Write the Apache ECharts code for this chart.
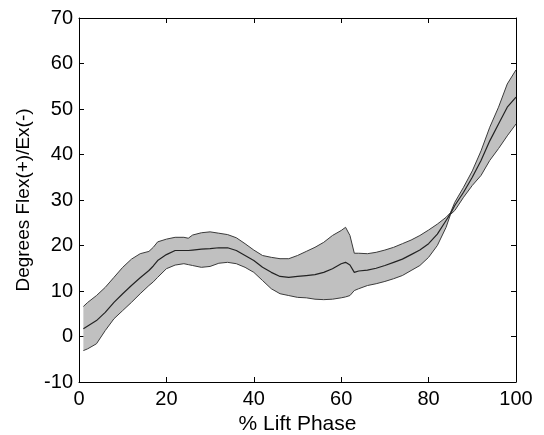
<!DOCTYPE html>
<html><head><meta charset="utf-8">
<script src="https://cdn.jsdelivr.net/npm/echarts@6/dist/echarts.min.js"></script>
<style>html,body{margin:0;padding:0;background:#fff}#c{width:544px;height:435px}</style>
</head><body><div id="c"></div>
<script>
var xPct = [1,2,4,6,8,10,12,14,16,17,18,20,22,24,25,26,28,30,32,34,36,38,40,42,44,46,48,50,52,54,56,58,60,61,62,63,64,66,68,70,72,74,76,78,80,82,84,85,86,88,90,92,94,96,98,100];
var meanVals = [1.7,2.3,3.5,5.3,7.5,9.4,11.2,12.9,14.5,15.5,16.7,18,18.9,18.9,18.9,19,19.2,19.3,19.5,19.5,18.9,17.8,16.7,15.2,14.1,13.2,13,13.2,13.4,13.6,14.1,14.9,16,16.3,15.7,14.1,14.4,14.6,15,15.6,16.3,17,18,19,20.4,22.5,25.5,27,28.8,31.7,35,38.7,43,46.7,50.4,52.6];
var upperVals = [6.6,7.5,9,10.8,13,15.2,17,18.2,18.7,19.6,20.8,21.4,21.8,21.8,21.6,22.3,22.8,23,22.7,22.4,21.7,20.4,19,17.8,17.4,17.1,17.1,17.8,18.7,19.6,20.7,22.2,23.3,24,22.2,18.3,18.3,18.2,18.5,19,19.6,20.4,21.2,22.2,23.4,24.7,26.2,27.2,29.5,32.8,36.4,40.8,46,50.4,55.5,58.6];
var lowerVals = [-3.1,-2.7,-1.6,1.3,3.9,5.7,7.5,9.4,11.2,12,13,14.9,15.7,16,15.8,15.6,15.2,15.4,16.1,16.3,16,15.2,14.1,12.3,10.5,9.4,9,8.6,8.5,8.2,8.1,8.2,8.5,8.7,9,10.1,10.5,11.2,11.6,12.1,12.7,13.4,14.5,15.6,17.4,20,24,26.8,27.7,30.6,33.2,35.4,38.7,41.3,44.1,46.7];
var xTicks = [0,20,40,60,80,100];
var yTicks = [-10,0,10,20,30,40,50,60,70];

function pairs(arr){ return xPct.map(function(x,i){ return [x, arr[i]]; }); }

var font = 'Liberation Sans, Arial, sans-serif';
var chart = echarts.init(document.getElementById('c'));
function axisCommon(){ return {
  axisLine:{show:true,onZero:false,lineStyle:{color:'#000',width:1}},
  axisTick:{show:true,inside:true,length:5,lineStyle:{color:'#000'}},
  splitLine:{show:false}
};}
chart.setOption({
  animation:false,
  grid:{left:79,right:28,top:18,bottom:53,show:false,containLabel:false,outerBoundsMode:'none'},
  xAxis:[
    Object.assign({type:'value',min:xTicks[0],max:xTicks[xTicks.length-1],interval:20,position:'bottom',
      name:'% Lift Phase',nameLocation:'middle',nameGap:31,
      nameTextStyle:{fontFamily:font,fontSize:21,color:'#000'},
      axisLabel:{fontFamily:font,fontSize:20,color:'#000',margin:7}},axisCommon()),
    Object.assign({type:'value',min:xTicks[0],max:xTicks[xTicks.length-1],interval:20,position:'top',
      axisLabel:{show:false}},axisCommon())
  ],
  yAxis:[
    Object.assign({type:'value',min:yTicks[0],max:yTicks[yTicks.length-1],interval:10,position:'left',
      name:'Degrees Flex(+)/Ex(-)',nameLocation:'middle',nameGap:45,
      nameTextStyle:{fontFamily:font,fontSize:19,color:'#000'},
      axisLabel:{fontFamily:font,fontSize:20,color:'#000',margin:6}},axisCommon()),
    Object.assign({type:'value',min:yTicks[0],max:yTicks[yTicks.length-1],interval:10,position:'right',
      axisLabel:{show:false}},axisCommon())
  ],
  series:[
    {type:'custom',silent:true,z:1,
      data:[0],
      renderItem:function(params, api){
        var pts = [];
        for (var i=0;i<xPct.length;i++) pts.push(api.coord([xPct[i], upperVals[i]]));
        for (var j=xPct.length-1;j>=0;j--) pts.push(api.coord([xPct[j], lowerVals[j]]));
        return {type:'polygon',shape:{points:pts},style:{fill:'#c0c0c0',stroke:null}};
      }},
    {type:'line',data:pairs(upperVals),symbol:'none',z:3,lineStyle:{color:'#3a3a3a',width:1}},
    {type:'line',data:pairs(lowerVals),symbol:'none',z:3,lineStyle:{color:'#3a3a3a',width:1}},
    {type:'line',data:pairs(meanVals),symbol:'none',z:3,lineStyle:{color:'#222',width:1.2}}
  ]
});
</script></body></html>
